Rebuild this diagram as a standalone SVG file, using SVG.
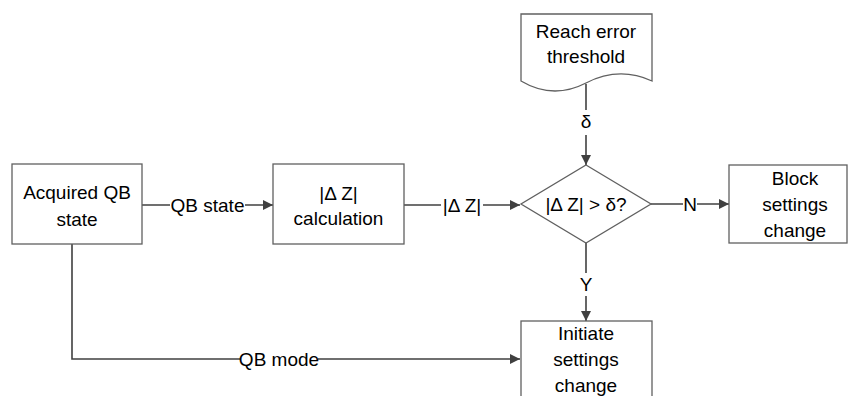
<svg xmlns="http://www.w3.org/2000/svg" width="849" height="396" viewBox="0 0 849 396">
<defs>
<marker id="ah" viewBox="0 0 10 10" refX="10" refY="5" markerWidth="10" markerHeight="10" markerUnits="userSpaceOnUse" orient="auto">
<path d="M0,0 L10,5 L0,10 z" fill="#404040"/>
</marker>
<style>
.box{fill:#fff;stroke:#606060;stroke-width:1.3}
.t{font-family:"Liberation Sans",Arial,sans-serif;font-size:19px;fill:#000;text-anchor:middle}
.c{fill:none;stroke:#404040;stroke-width:1.6}
.lb{fill:#fff}
</style>
</defs>
<rect width="849" height="396" fill="#fff"/>
<g id="connectors">
<line class="c" x1="142" y1="205" x2="273" y2="205" marker-end="url(#ah)"/>
<rect class="lb" x="170" y="193" width="75" height="24"/>
<text class="t" x="207.5" y="211.5">QB state</text>
<line class="c" x1="404" y1="205" x2="520" y2="205" marker-end="url(#ah)"/>
<rect class="lb" x="441" y="193" width="42" height="24"/>
<text class="t" x="462" y="211.5">|Δ Z|</text>
<line class="c" x1="586" y1="84" x2="586" y2="165" marker-end="url(#ah)"/>
<rect class="lb" x="577" y="110" width="18" height="25"/>
<text class="t" x="586" y="128">δ</text>
<line class="c" x1="651" y1="204" x2="729" y2="204" marker-end="url(#ah)"/>
<rect class="lb" x="683" y="192" width="14" height="24"/>
<text class="t" x="690" y="210.5">N</text>
<line class="c" x1="586" y1="243" x2="586" y2="321" marker-end="url(#ah)"/>
<rect class="lb" x="577" y="273" width="18" height="23"/>
<text class="t" x="586" y="290.5">Y</text>
<polyline class="c" points="72,244 72,359 520,359" marker-end="url(#ah)"/>
<rect class="lb" x="240" y="347" width="78" height="24"/>
<text class="t" x="279" y="366">QB mode</text>
</g>
<g id="acquired">
<rect class="box" x="12" y="164" width="130" height="80"/>
<text class="t" x="77" y="199">Acquired QB</text>
<text class="t" x="77" y="226">state</text>
</g>
<g id="calc">
<rect class="box" x="273" y="164" width="131" height="80"/>
<text class="t" x="338.5" y="200">|Δ Z|</text>
<text class="t" x="338.5" y="225">calculation</text>
</g>
<g id="threshold">
<path class="box" d="M521,14 L652,14 L652,81 Q619,66 586,83 Q553,100 521,81 Z"/>
<text class="t" x="586" y="38">Reach error</text>
<text class="t" x="586" y="63">threshold</text>
</g>
<g id="decision">
<polygon class="box" points="586,165 651,204 586,243 521,204"/>
<text class="t" x="586" y="210.5">|Δ Z| &gt; δ?</text>
</g>
<g id="block">
<rect class="box" x="729" y="165" width="118" height="78"/>
<text class="t" x="795" y="185">Block</text>
<text class="t" x="795" y="211">settings</text>
<text class="t" x="795" y="237">change</text>
</g>
<g id="initiate">
<rect class="box" x="521" y="321" width="131" height="90"/>
<text class="t" x="586" y="340">Initiate</text>
<text class="t" x="586" y="366">settings</text>
<text class="t" x="586" y="392">change</text>
</g>
</svg>
